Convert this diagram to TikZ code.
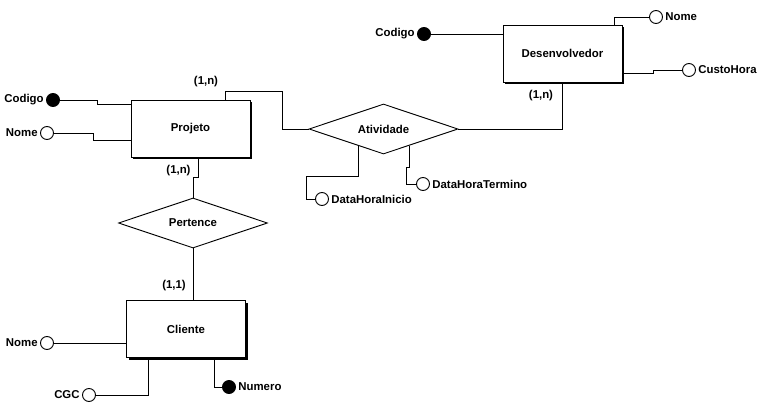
\documentclass[tikz,border=0pt]{standalone}
\usepackage{fontspec}
\setmainfont{Liberation Sans}
\usetikzlibrary{shapes.geometric,shadows,positioning}
\newcommand{\rotfont}{\fontsize{11.4}{13}\selectfont\bfseries}
\tikzset{
  entidade/.style={rectangle,draw,fill=white,minimum width=119pt,minimum height=57pt,
    drop shadow={shadow xshift=2pt,shadow yshift=-2pt,fill=black,opacity=1},font=\rotfont},
  relac/.style={diamond,draw,fill=white,minimum width=149pt,minimum height=50pt,
    aspect=3,inner sep=1pt,font=\rotfont},
  % atributos: circulo aberto, chave em preto
  atrib/.style={circle,draw,fill=white,minimum size=13pt,inner sep=0pt},
  chave/.style={atrib,fill=black},
  rot/.style={font=\rotfont,inner sep=1pt,label distance=1pt},
  card/.style={font=\rotfont,inner sep=0pt}
}

\begin{document}
\begin{tikzpicture}[x=1pt,y=-1pt,line width=0.9pt]
  \useasboundingbox (0,0) rectangle (769,407);
  \node[entidade] (dev) at (562.5,53.5) {Desenvolvedor};
  \node[entidade] (proj) at (190.5,128.5) {Projeto};
  \node[entidade] (cli) at (186,329) {Cliente};
  \node[relac] (ativ) at (383.5,129) {Atividade};
  \node[relac] (pert) at (193,223) {Pertence};

  \node[chave, label={[rot]left:Codigo}] (dcod) at (424,34) {};
  \node[atrib, label={[rot]right:Nome}] (dnome) at (656,17) {};
  \node[atrib, label={[rot]right:CustoHora}] (dcusto) at (689,70) {};
  \node[chave, label={[rot]left:Codigo}] (pcod) at (53,100) {};
  \node[atrib, label={[rot]left:Nome}] (pnome) at (47,133) {};
  \node[atrib, label={[rot]right:DataHoraInicio}] (inicio) at (322,199) {};
  \node[atrib, label={[rot]right:DataHoraTermino}] (termino) at (423,184) {};
  \node[atrib, label={[rot]left:Nome}] (cnome) at (47,343) {};
  \node[atrib, label={[rot]left:CGC}] (cgc) at (89,395) {};
  \node[chave, label={[rot]right:Numero}] (cnum) at (229,387) {};

  \node[card] (c1) at (541,96) {(1,n)};
  \node[card] (c2) at (206,82) {(1,n)};
  \node[card] (c3) at (178.5,171) {(1,n)};
  \node[card] (c4) at (174,286) {(1,1)};

  \draw (dcod) -- (dev.west |- dcod);
  \draw ([xshift=-8pt]dev.north east) |- (dnome);
  \draw (dev.east |- 0,73) -- (653,73) |- (dcusto);
  \draw (dev.south) |- (ativ.east);
  \draw (proj.north -| 225,0) -- (225,91) -| (282,129) -- (ativ.west);
  \draw (pcod) -- (97,100) |- (proj.west |- 0,104);
  \draw (pnome) -- (93,133) |- (proj.west |- 0,140);
  \draw (ativ.214) |- (306,176) |- (inicio);
  \draw (ativ.327) |- (406,167) |- (termino);
  \draw (proj.south -| 198,0) -- (198,177) -| (pert.north);
  \draw (pert.south) -- (pert.south |- cli.north);
  \draw (cnome) -- (cli.west |- cnome);
  \draw (cli.south -| 148,0) |- (cgc);
  \draw (cli.south -| 214,0) |- (cnum);
\end{tikzpicture}
\end{document}
